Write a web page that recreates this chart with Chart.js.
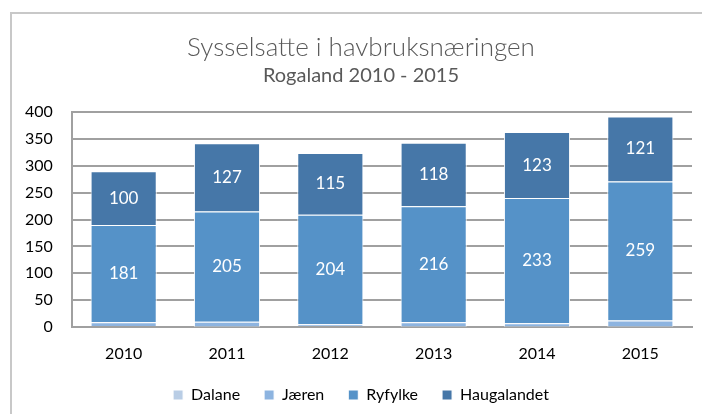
<!DOCTYPE html>
<html>
<head>
<meta charset="utf-8">
<script src="https://cdn.jsdelivr.net/npm/chart.js@4"></script>
<style>
  html, body { margin: 0; padding: 0; background: #fff; }
  #wrap { position: relative; width: 702px; height: 414px; overflow: hidden; }
  #ramme { position: absolute; left: 10px; top: 12px; width: 700px; height: 420px; border: 2px solid #c8c8c8; box-sizing: border-box; }
  canvas { position: absolute; left: 0; top: 0; }
</style>
</head>
<body>
<div id="wrap">
  <div id="ramme"></div>
  <canvas id="graf" width="702" height="414"></canvas>
</div>
<script>
var aar = ["2010", "2011", "2012", "2013", "2014", "2015"];
var dalane = [2, 1, 0, 1, 1, 1];
var jaeren = [7, 9, 5, 8, 6, 11];
var ryfylke = [181, 205, 204, 216, 233, 259];
var haugalandet = [100, 127, 115, 118, 123, 121];
var yTicks = [0, 50, 100, 150, 200, 250, 300, 350, 400];

var fontNavn = "Lato, 'Open Sans', sans-serif";

// skriver tallene midt i segmentene (bare Ryfylke og Haugalandet)
var etiketter = {
  id: "etiketter",
  afterDatasetsDraw(chart) {
    var ctx = chart.ctx;
    ctx.save();
    ctx.fillStyle = "#ffffff";
    ctx.font = "17px " + fontNavn;
    ctx.textAlign = "center";
    ctx.textBaseline = "middle";
    [2, 3].forEach(i => {
      var meta = chart.getDatasetMeta(i);
      meta.data.forEach((bar, j) => {
        var v = chart.data.datasets[i].data[j];
        ctx.fillText(v, bar.x, (bar.y + bar.base) / 2);
      });
    });
    ctx.restore();
  }
};

function lagSerie(navn, data, farge) {
  return {
    label: navn,
    data: data,
    backgroundColor: farge,
    borderColor: "#ffffff",
    borderWidth: 1,
    barPercentage: 0.64,
    categoryPercentage: 1
  };
}

new Chart(document.getElementById("graf"), {
  type: "bar",
  data: {
    labels: aar,
    datasets: [
      lagSerie("Dalane", dalane, "#b9cde5"),
      lagSerie("Jæren", jaeren, "#8db4e0"),
      lagSerie("Ryfylke", ryfylke, "#5592c8"),
      lagSerie("Haugalandet", haugalandet, "#4677a8")
    ]
  },
  options: {
    responsive: false,
    animation: false,
    layout: { padding: { left: 30, right: 10, top: 0, bottom: 1 } },
    scales: {
      x: {
        stacked: true,
        afterFit: axis => { axis.height = 36; },
        grid: { display: false, drawTicks: false },
        border: { color: "#a0a0a0", width: 2 },
        ticks: { color: "#000", font: { family: fontNavn, size: 16 }, padding: 17 }
      },
      y: {
        stacked: true,
        min: 0,
        max: 400,
        afterBuildTicks: axis => { axis.ticks = yTicks.map(v => ({ value: v })); },
        afterFit: axis => { axis.width = 42; },
        grid: { color: "#a0a0a0", lineWidth: 2, drawTicks: false },
        border: { color: "#a0a0a0", width: 2 },
        // mirror slik at etikettene ikke klippes av aksens boks
        ticks: { color: "#000", font: { family: fontNavn, size: 16 }, mirror: true, crossAlign: "far", padding: -47 }
      }
    },
    plugins: {
      title: {
        display: true,
        text: "Sysselsatte i havbruksnæringen",
        color: "#595959",
        font: { family: fontNavn, size: 26, weight: 300 },
        padding: { top: 32, bottom: 0 }
      },
      subtitle: {
        display: true,
        text: "Rogaland 2010 - 2015",
        color: "#595959",
        font: { family: fontNavn, size: 20, weight: "normal" },
        padding: { top: 0, bottom: 25 }
      },
      legend: {
        position: "bottom",
        labels: {
          color: "#000",
          font: { family: fontNavn, size: 16 },
          boxWidth: 10,
          boxHeight: 10,
          padding: 24
        }
      },
      tooltip: { enabled: false }
    }
  },
  plugins: [etiketter]
});
</script>
</body>
</html>
